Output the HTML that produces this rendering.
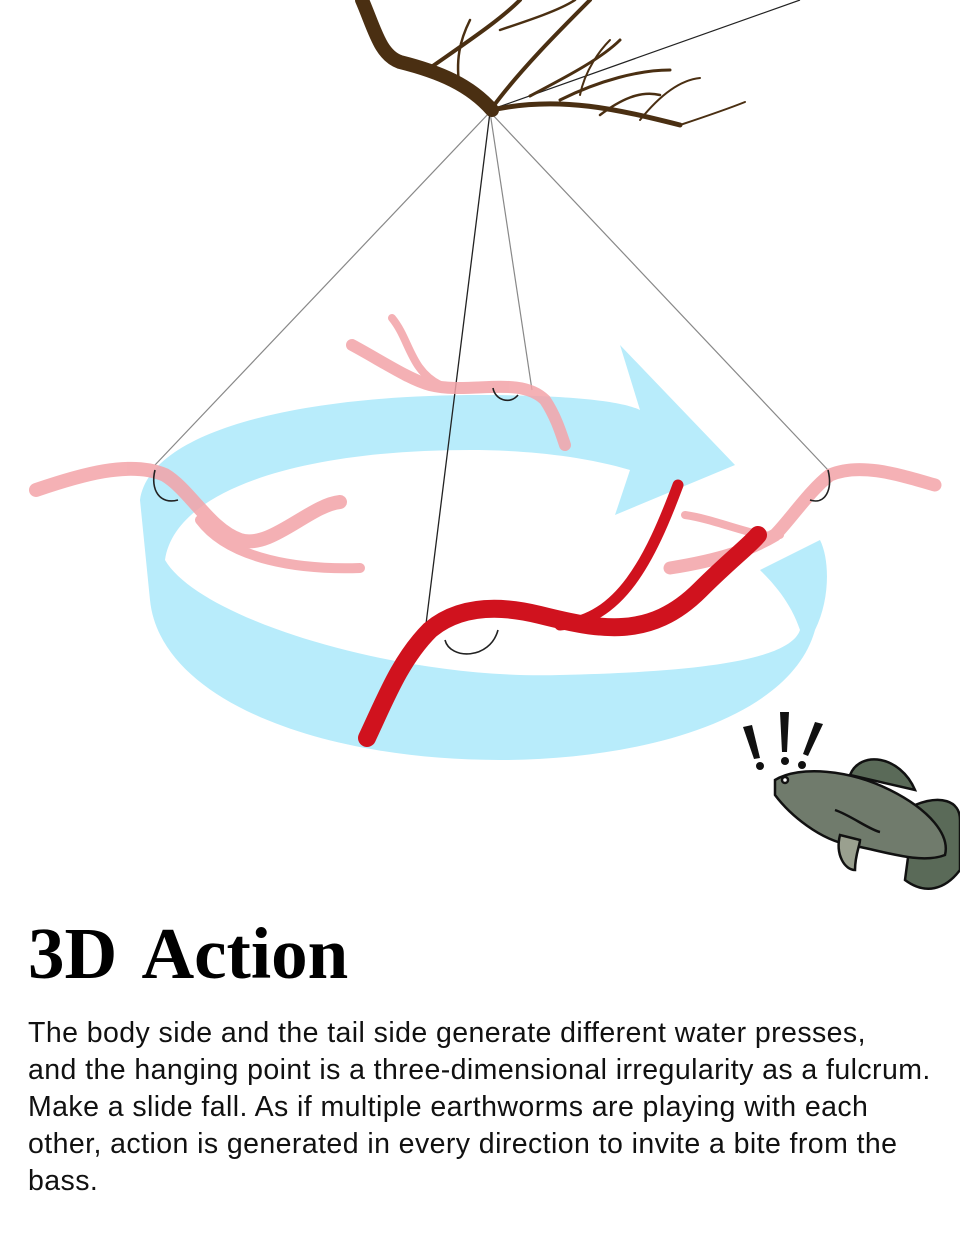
<!DOCTYPE html>
<html><head><meta charset="utf-8"><style>
body{margin:0;background:#fff;width:960px;height:1240px;overflow:hidden;position:relative}
svg{position:absolute;left:0;top:0}
h1{position:absolute;left:28px;top:912px;margin:0;font-family:"Liberation Serif",serif;font-weight:bold;font-size:73px;word-spacing:10px;color:#000}
p{position:absolute;left:28px;top:1015px;margin:0;white-space:nowrap;font-family:"Liberation Sans",sans-serif;font-size:28.5px;letter-spacing:0.42px;line-height:37px;color:#111}
</style></head><body>
<svg width="960" height="900" viewBox="0 0 960 900">
<path fill="#b8ecfb" fill-rule="evenodd" d="M140,500 C150,430 300,395 480,395 C560,395 620,400 640,410 L620,345 L735,465 L615,515 L630,470 C580,455 520,450 470,450 C300,450 175,490 165,560 C200,620 400,680 560,675 C700,672 790,660 800,630 C790,600 770,580 760,570 L820,540 C830,560 830,600 815,630 C790,720 640,760 500,760 C320,760 160,700 150,600 Z"/>
<g stroke="#888" stroke-width="1.2" fill="none">
<line x1="490" y1="112" x2="155" y2="465"/>
<line x1="490" y1="112" x2="828" y2="470"/>
<line x1="490" y1="112" x2="532" y2="390"/>
</g>
<line x1="490" y1="112" x2="425" y2="632" stroke="#222" stroke-width="1.3"/>
<line x1="490" y1="110" x2="800" y2="0" stroke="#222" stroke-width="1.2"/>
<g stroke="#4a2f12" fill="none" stroke-linecap="round">
<path d="M362,0 C375,30 380,55 400,62 C440,72 470,85 492,110" stroke-width="14"/>
<path d="M492,110 C560,95 620,110 680,125" stroke-width="5"/>
<path d="M680,125 C710,115 730,108 745,102" stroke-width="2"/>
<path d="M492,108 C520,70 560,30 590,0" stroke-width="4"/>
<path d="M530,96 C560,80 600,60 620,40" stroke-width="3"/>
<path d="M560,100 C600,80 640,70 670,70" stroke-width="3"/>
<path d="M600,115 C620,100 640,90 660,95" stroke-width="2.5"/>
<path d="M640,120 C660,95 680,80 700,78" stroke-width="2"/>
<path d="M430,68 C470,40 500,20 520,0" stroke-width="4"/>
<path d="M500,30 C530,20 560,10 575,0" stroke-width="2.5"/>
<path d="M580,95 C585,70 600,50 610,40" stroke-width="2"/>
<path d="M460,90 C455,60 460,40 470,20" stroke-width="2.5"/>
</g>
<g stroke="#f3a3a8" fill="none" stroke-linecap="round" opacity="0.85">
<path d="M36,490 C80,475 130,460 165,475 C190,490 210,530 240,540 C270,550 310,505 340,502" stroke-width="14"/>
<path d="M200,520 C230,560 300,570 360,568" stroke-width="10"/>
<path d="M352,345 C380,360 410,380 430,385 C470,395 520,375 545,400 C555,415 560,430 565,445" stroke-width="12"/>
<path d="M392,318 C410,340 410,370 440,385" stroke-width="8"/>
<path d="M935,485 C900,475 860,462 830,475 C810,490 790,520 775,535 C750,550 720,560 670,568" stroke-width="13"/>
<path d="M685,515 C720,520 760,540 780,535" stroke-width="8"/>
</g>
<g stroke="#222" stroke-width="1.6" fill="none">
<path d="M155,470 C150,490 160,505 178,500"/>
<path d="M493,388 C495,400 510,405 518,395"/>
<path d="M828,470 C833,490 825,505 810,500"/>
<path d="M445,640 C450,660 490,660 498,630"/>
</g>
<g stroke="#d0121e" fill="none" stroke-linecap="round">
<path d="M367,738 C385,700 400,660 430,630 C460,605 500,605 540,615 C600,630 650,640 700,590 C730,560 750,545 758,535" stroke-width="18"/>
<path d="M560,625 C620,620 650,560 678,485" stroke-width="11"/>
</g>
<g fill="#111">
<polygon points="743,727 752,725 760,758 754,759"/><circle cx="760" cy="766" r="4"/>
<polygon points="780,712 789,712 787,752 782,752"/><circle cx="785" cy="761" r="4"/>
<polygon points="815,722 823,724 808,756 803,754"/><circle cx="802" cy="765" r="4"/>
</g>
<g stroke="#111" stroke-width="2.5">
<path d="M850,775 C860,750 900,755 915,790 Z" fill="#5a6a58"/>
<path d="M915,805 C940,795 960,800 960,820 L960,870 C945,890 925,895 905,880 Z" fill="#5a6a58"/>
<path d="M775,780 C800,765 850,770 890,790 C930,810 950,835 945,855 C920,865 880,850 850,845 C820,840 790,815 775,795 Z" fill="#707b6c"/>
<path d="M840,835 C835,855 845,870 855,870 C855,855 860,845 860,840 Z" fill="#9aa08f"/>
<path d="M835,810 C850,815 870,830 880,832" fill="none"/>
<circle cx="785" cy="780" r="3" fill="#fff"/>
</g>
</svg>
<h1>3D Action</h1>
<p>The body side and the tail side generate different water presses,<br>and the hanging point is a three-dimensional irregularity as a fulcrum.<br>Make a slide fall. As if multiple earthworms are playing with each<br>other, action is generated in every direction to invite a bite from the<br>bass.</p>
</body></html>
